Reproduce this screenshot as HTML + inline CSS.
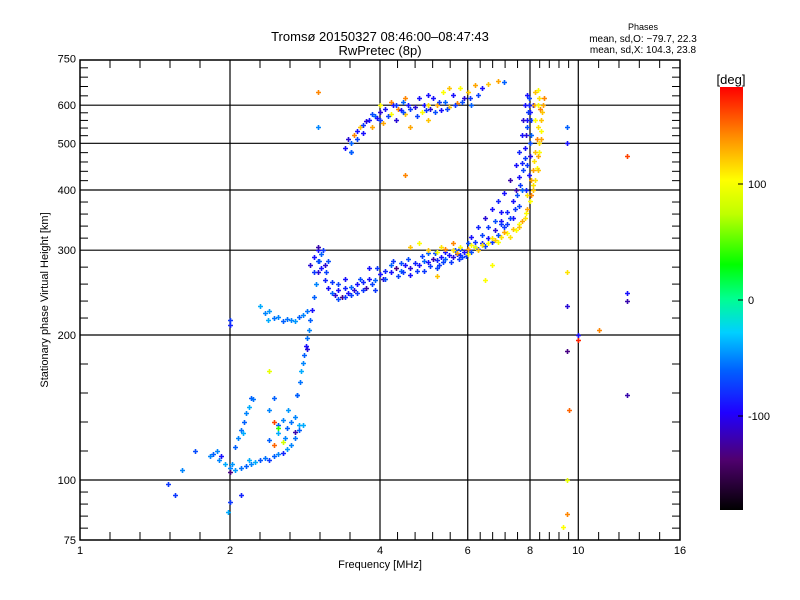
<!DOCTYPE html>
<html><head><meta charset="utf-8"><style>
body{margin:0;background:#fff;}
svg{display:block;font-family:"Liberation Sans",sans-serif;}
</style></head><body>
<svg id="chart" width="800" height="600" viewBox="0 0 800 600">
<defs>
<linearGradient id="cb" x1="0" y1="1" x2="0" y2="0">
<stop offset="0" stop-color="#000000"/><stop offset="0.12" stop-color="#500070"/><stop offset="0.23" stop-color="#2000ff"/><stop offset="0.33" stop-color="#0060ff"/><stop offset="0.42" stop-color="#00d0ff"/><stop offset="0.5" stop-color="#00ff90"/><stop offset="0.58" stop-color="#00ff00"/><stop offset="0.7" stop-color="#c0ff00"/><stop offset="0.78" stop-color="#ffff00"/><stop offset="0.88" stop-color="#ff9000"/><stop offset="1" stop-color="#ff0000"/>
</linearGradient>
</defs>
<text x="380" y="41" font-size="13" text-anchor="middle">Tromsø 20150327 08:46:00–08:47:43</text>
<text x="380" y="55" font-size="13" text-anchor="middle">RwPretec (8p)</text>
<text x="643" y="30" font-size="9" text-anchor="middle">Phases</text>
<text x="643" y="42" font-size="10" text-anchor="middle">mean, sd,O: −79.7, 22.3</text>
<text x="643" y="53" font-size="10" text-anchor="middle">mean, sd,X: 104.3, 23.8</text>
<g id="grid"></g>
<g id="points"></g>
<rect x="80" y="60" width="600" height="480" fill="none" stroke="#000" stroke-width="1.5"/>
<g id="axes"></g>
<text x="380" y="568" font-size="11" text-anchor="middle">Frequency [MHz]</text>
<text x="48" y="300" font-size="11" text-anchor="middle" transform="rotate(-90 48 300)">Stationary phase Virtual Height [km]</text>
<rect x="720" y="87" width="23" height="423" fill="url(#cb)"/>
<text x="731" y="84" font-size="13" text-anchor="middle">[deg]</text>
<g id="cbar"></g>
</svg>
<script>
const xTicks=[1,2,4,6,8,10,16];
const yTicks=[75,100,200,300,400,500,600,750];
const xGrid=[2,4,6,8,10];
const yGrid=[100,200,300,400,500,600];
const cbTicks=[100,0,-100];
const lowTrace=[[1.85,113,-60],[1.9,110,-50],[1.95,108,-40],[2.0,106,-50],[2.05,105,-45],[2.1,106,-55],[2.15,107,-60],[2.2,108,-50],[2.25,109,-40],[2.3,110,-65],[2.35,111,-55],[2.4,110,-80],[2.45,112,-60],[2.5,113,-50],[2.55,114,-90],[2.6,116,-45],[2.65,118,-50],[2.7,122,-55],[2.75,127,-60],[2.8,130,-40],[2.58,122,-50],[2.5,125,-40],[2.45,118,150],[2.4,121,-60],[1.88,115,-50],[1.92,112,-100],[2.0,104,-130],
[2.05,117,-60],[2.08,122,-50],[2.1,127,-55],[2.13,132,-60],[2.15,138,-50],[2.18,142,-40],[2.2,148,-60],[2.22,147,-55],[2.12,125,-40],
[2.4,140,-50],[2.45,148,-60],[2.5,130,-60],[2.55,133,-50],[2.6,128,-60],[2.65,132,-55],[2.7,135,-50],[2.75,130,-40],[2.45,132,160],[2.5,128,40],[2.62,140,-45],[2.7,126,-120],[2.72,150,-60],[2.55,120,80],
[2.73,150,-60],[2.76,160,-55],[2.78,168,-40],[2.8,175,-50],[2.82,182,-60],[2.84,190,-100],[2.86,197,-55],[2.88,205,-50],[2.85,187,-110],[2.9,215,-60],[2.92,225,-100],[2.95,240,-60],[2.97,255,-50],[3.0,270,-110],[3.02,285,-60],[3.0,300,-100],
[2.35,222,-50],[2.45,217,-55],[2.55,214,-60],[2.65,215,-50],[2.75,218,-60],[2.85,224,-55],[2.3,230,-40],[2.4,224,-45],[2.5,218,-50],[2.6,216,-55],[2.7,214,-45],[2.8,220,-50],[2.38,215,-40],[1.82,112,-50],[2.02,108,-45],[2.18,110,-40]];
const fTrace=[[2.9,280,-110],[2.95,290,-100],[3.0,305,-120],[3.05,295,-60],[3.05,275,-100],[3.1,260,-90],[3.1,280,-110],[3.15,250,-100],[3.2,245,-60],[3.25,242,-110],[3.3,248,-100],[3.35,240,-130],[3.4,250,-90],[3.45,245,-100],[3.5,252,-60],[3.55,248,-110],[3.6,255,-100],[3.7,258,-90],[3.75,250,-120],[3.8,262,-100],[3.9,260,-60],[4.0,268,-100],[4.05,262,-110],[4.1,272,-90],[4.2,270,-100],[4.3,275,-130],[4.4,272,-60],[4.5,280,-100],[4.6,276,-110],[4.7,282,-90],[4.8,280,-100],[4.9,285,-60],[5.0,283,-100],[5.1,288,-120],[5.2,286,-90],[5.3,290,-100],[5.4,288,-60],[5.5,293,-100],[5.6,290,-110],[5.7,295,-100],[5.8,293,-90],[5.9,298,-100],[6.0,300,-120],[6.2,305,-100],[6.4,310,-90],[6.6,318,-100],[6.8,330,-110],[7.0,345,-100],[7.2,360,-90],[7.4,380,-100],[7.5,400,-120],[7.6,425,-100],[7.7,455,-90],[7.8,490,-100],[7.85,520,-110],[7.9,560,-100],[7.95,600,-90],[7.9,630,-100],[3.8,275,-100],[4.2,280,-60],[4.6,266,-100],[5.0,296,-60],[5.4,298,-100],[3.4,262,-100],
[6.1,320,-100],[6.3,335,-90],[6.5,350,-110],[6.7,365,-100],[6.9,380,-90],[7.1,395,-100],[7.3,420,-120],[7.5,450,-100],[7.6,480,-90],[7.7,520,-100],[7.75,560,-110],[7.8,600,-100],[8.0,580,-100],[8.05,520,-60],[8.0,470,-110],[7.95,430,-100],[7.85,400,-90],[8.1,600,-100],[7.7,400,-60],[7.4,350,-100],
[2.95,270,-80],[3.0,285,-70],[3.08,300,-80],[3.12,270,-75],[3.2,258,-80],[3.3,238,-70],[3.4,240,-80],[3.5,242,-75],[3.6,245,-80],[3.65,262,-70],[3.7,248,-80],[3.85,255,-75],[3.95,275,-80],[4.1,262,-70],[4.25,285,-80],[4.35,265,-75],[4.45,270,-80],[4.55,288,-70],[4.75,272,-80],[4.85,292,-75],[5.05,278,-80],[5.15,296,-70],[5.25,280,-80],[5.35,283,-75],[5.55,284,-80],[5.65,300,-70],[5.75,288,-80],[5.85,290,-75],[5.95,292,-80],[6.1,298,-70],[6.3,302,-80],[6.5,306,-75],[6.7,312,-80],[6.9,322,-70],[7.1,335,-80],[7.3,350,-75],[7.45,365,-80],[7.55,390,-70],[7.65,410,-80],[7.75,440,-75],[7.8,465,-80],[7.88,540,-70],[7.92,580,-80],[7.98,620,-75],[8.05,560,-80],[8.0,500,-70],[7.9,450,-80],[7.6,370,-75],[7.2,340,-80],[6.8,345,-70],[6.6,335,-80],[6.4,322,-75],[6.2,312,-80],[6.0,310,-70],[5.8,302,-80],[5.2,276,-75],[4.9,272,-80],[4.4,282,-70],[3.9,248,-80],[3.3,255,-75],[3.15,285,-70]];
const xTrace=[[5.0,300,120],[5.2,298,100],[5.4,302,140],[5.6,300,110],[5.8,305,100],[6.0,302,130],[6.2,305,90],[6.4,308,110],[6.6,310,100],[6.8,315,120],[7.0,320,110],[7.2,325,100],[7.4,332,120],[7.6,340,100],[7.8,350,110],[7.9,365,130],[8.0,380,100],[8.1,400,120],[8.2,420,110],[8.25,445,100],[8.3,470,130],[8.35,500,110],[8.4,530,100],[8.4,560,120],[8.38,590,140],[8.35,620,110],[8.3,645,100],[8.2,640,120],[8.15,600,130],[8.2,560,100],[8.25,510,140],[8.15,460,110],[8.05,420,130],[7.9,390,110],[7.7,345,130],[7.5,330,100],[4.6,305,120],[4.8,310,100],[5.6,310,140],[6.0,295,100],[8.5,600,130],[8.55,620,140],
[5.3,305,110],[5.7,296,130],[6.1,308,100],[6.3,300,120],[6.7,318,110],[6.9,312,100],[7.1,328,130],[7.3,320,110],[7.6,335,120],[7.85,358,100],[8.05,390,140],[8.12,410,110],[8.3,440,120],[8.35,480,100],[8.4,510,130],[8.3,540,110],[8.45,580,120],[8.3,600,100],[8.1,440,130],[8.2,480,120]];
const upperCluster=[[3.4,490,-100],[3.45,510,-110],[3.5,500,-60],[3.55,520,140],[3.6,530,-100],[3.65,540,120],[3.7,525,-100],[3.75,555,-110],[3.8,560,-100],[3.85,540,130],[3.9,570,-60],[3.95,565,-100],[4.0,580,-110],[4.05,550,130],[4.1,590,-100],[4.2,575,100],[4.25,600,-100],[4.3,560,-110],[4.35,590,140],[4.4,585,-100],[4.45,610,-60],[4.5,575,120],[4.55,600,-100],[4.6,540,130],[4.7,595,-110],[4.8,620,-100],[4.85,580,100],[4.9,600,-100],[5.0,560,120],[5.05,590,-110],[5.1,620,-100],[5.2,600,130],[5.3,585,-100],[5.35,640,100],[5.4,610,-60],[5.5,595,120],[5.6,630,-100],[5.7,605,140],[5.8,650,100],[5.9,620,-110],[6.0,640,120],[6.1,600,-60],[6.2,660,130],[6.4,650,-100],[6.6,665,120],[6.9,675,130],[7.1,670,-60],[4.2,610,140],[4.0,600,100],[5.0,630,-100],[5.5,650,120],
[3.5,480,-80],[3.6,510,-75],[3.7,545,-80],[3.85,575,-70],[4.0,560,-80],[4.15,570,-75],[4.3,600,-80],[4.45,580,-70],[4.6,590,-80],[4.75,570,-75],[4.95,585,-80],[5.15,580,-70],[5.25,610,-80],[5.45,590,-75],[5.65,600,-80],[5.85,610,-70],[6.05,620,-80],[6.3,630,-75],[4.5,620,140],[5.0,600,110]];
const strays=[[1.5,98,-80],[1.55,93,-80],[1.6,105,-50],[1.7,115,-70],[2.0,90,-80],[1.98,86,-40],[2.0,215,-80],[2.0,210,-90],[2.1,93,-90],[3.0,640,140],[3.0,540,-50],[3.5,480,-60],[4.5,430,140],[9.5,540,-60],[9.5,500,-100],[12.5,470,160],[10,200,-100],[11,205,140],[10,195,170],[12.5,245,-100],[12.5,235,-120],[9.5,270,110],[9.5,230,-110],[9.5,185,-130],[12.5,150,-120],[9.5,100,90],[9.5,85,140],[9.3,80,100],[9.6,140,150],[2.4,168,90],[7.0,340,-80],[7.0,360,-100],[6.7,280,100],[5.2,265,120],[6.5,260,100]];
const X=f=>80+150*Math.log2(f);
const Y=h=>480-481.7*Math.log10(h/100);
const cStops=[[-180,0,0,0],[-135,80,0,112],[-100,24,16,255],[-60,0,96,255],[-30,0,208,255],[0,0,255,144],[29,0,255,0],[72,192,255,0],[101,255,255,0],[137,255,144,0],[180,255,0,0]];
function col(p){for(let i=1;i<cStops.length;i++){if(p<=cStops[i][0]){const a=cStops[i-1],b=cStops[i],t=(p-a[0])/(b[0]-a[0]);return `rgb(${Math.round(a[1]+t*(b[1]-a[1]))},${Math.round(a[2]+t*(b[2]-a[2]))},${Math.round(a[3]+t*(b[3]-a[3]))})`;}}return 'rgb(255,0,0)';}
const NS='http://www.w3.org/2000/svg';
function mk(tag,attrs,parent){const e=document.createElementNS(NS,tag);for(const k in attrs)e.setAttribute(k,attrs[k]);parent.appendChild(e);return e;}
const grid=document.getElementById('grid'),axes=document.getElementById('axes'),pts=document.getElementById('points'),cbar=document.getElementById('cbar');
xGrid.forEach(f=>{const l=mk('line',{x1:X(f),x2:X(f),y1:60,y2:540,stroke:'#000','stroke-width':1.2},grid);

});
yGrid.forEach(h=>{const l=mk('line',{x1:80,x2:680,y1:Y(h),y2:Y(h),stroke:'#000','stroke-width':1.2},grid);

});
for(let i=0;i<xTicks.length-1;i++){const a=X(xTicks[i]),b=X(xTicks[i+1]);for(let k=1;k<5;k++){const x=a+(b-a)*k/5;mk('line',{x1:x,x2:x,y1:540,y2:532,stroke:'#000'},axes);mk('line',{x1:x,x2:x,y1:60,y2:68,stroke:'#000'},axes);}}
for(let i=0;i<yTicks.length-1;i++){const a=Y(yTicks[i]),b=Y(yTicks[i+1]);for(let k=1;k<5;k++){const y=a+(b-a)*k/5;mk('line',{x1:80,x2:88,y1:y,y2:y,stroke:'#000'},axes);mk('line',{x1:672,x2:680,y1:y,y2:y,stroke:'#000'},axes);}}
xTicks.forEach(f=>{const t=mk('text',{x:X(f),y:554,'font-size':11,'text-anchor':'middle'},axes);t.textContent=f;

});
yTicks.forEach(h=>{const t=mk('text',{x:76,y:Y(h)+4,'font-size':11,'text-anchor':'end'},axes);t.textContent=h;

});
cbTicks.forEach(p=>{const y=300-p*1.16;mk('line',{x1:738,x2:743,y1:y,y2:y,stroke:'#000'},cbar);const t=mk('text',{x:748,y:y+4,'font-size':11},cbar);t.textContent=p;

});
[lowTrace,fTrace,xTrace,upperCluster,strays].forEach(arr=>arr.forEach(d=>{const x=Math.round(X(d[0]))+0.5,y=Math.round(Y(d[1]))+0.5,c=col(d[2]);
const p=mk('path',{d:`M${x-2.5},${y}H${x+2.5}M${x},${y-2.5}V${y+2.5}`,stroke:c,'stroke-width':1.6},pts);

}));
</script>
</body></html>
